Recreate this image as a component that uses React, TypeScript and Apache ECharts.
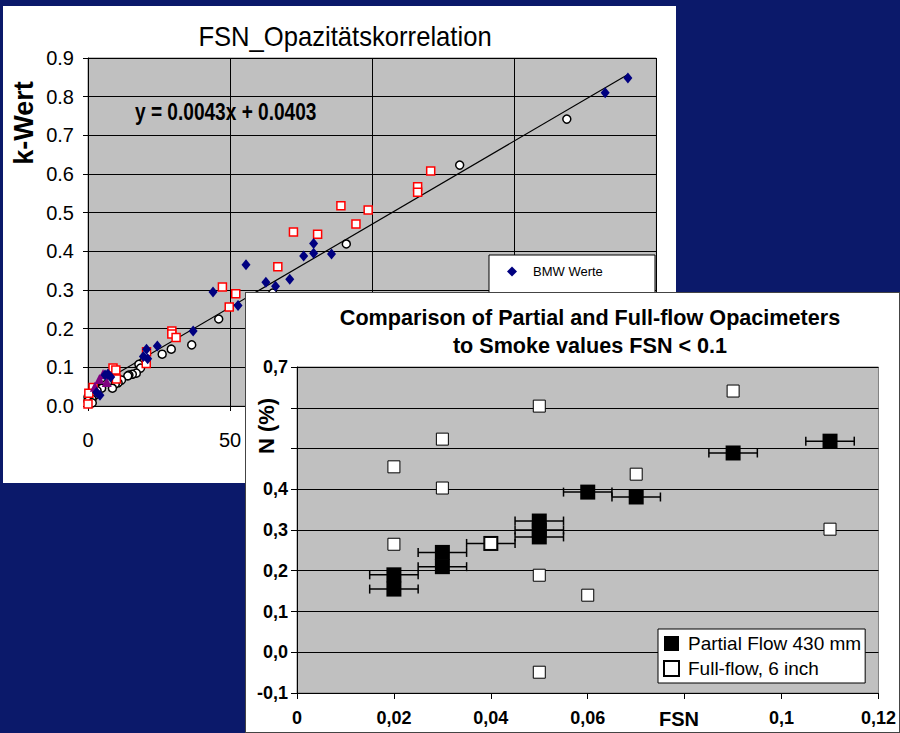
import React, { useEffect, useRef } from "react";
import * as echarts from "echarts";

const FONT = "'Liberation Sans', Arial, sans-serif";

// ---------- Chart 1: FSN_Opazitätskorrelation ----------
const chart1Title = "FSN_Opazitätskorrelation";
const chart1YName = "k-Wert";
const chart1Equation = "y = 0.0043x + 0.0403";
const chart1SeriesNames = ["BMW Werte", "Teilfluss-Opazimeter", "Vollstrom-Opazimeter", "Sonstige"];

const bmwWerte: number[][] = [
  [190, 0.848], [182, 0.81], [85.7, 0.393], [79.4, 0.42], [79.4, 0.395], [75.9, 0.388],
  [71, 0.328], [66, 0.31], [62.6, 0.32], [55.6, 0.365], [52.8, 0.26], [44, 0.295],
  [37, 0.194], [24.4, 0.155], [20.6, 0.147], [19.5, 0.128], [21, 0.122], [7, 0.083],
  [6, 0.08], [8, 0.075], [4.2, 0.028], [3, 0.035],
];
const redSquares: number[][] = [
  [120.6, 0.608], [116, 0.567], [116, 0.553], [98.6, 0.507], [89, 0.518], [94.3, 0.471],
  [80.8, 0.444], [72.3, 0.45], [66.8, 0.36], [47.3, 0.308], [52, 0.29], [49.7, 0.256],
  [29.5, 0.194], [29.5, 0.186], [31, 0.177], [20.6, 0.14], [8.8, 0.098], [9.8, 0.093],
  [1.8, 0.048], [0.3, 0.033], [0, 0.005], [20.5, 0.11], [10, 0.07],
];
const whiteCircles: number[][] = [
  [168.5, 0.742], [130.8, 0.623], [90.9, 0.419], [65, 0.292], [46, 0.225], [36.5, 0.158],
  [29.3, 0.147], [26.1, 0.134], [20.2, 0.121], [19.3, 0.113], [17.9, 0.108], [18.5, 0.098],
  [17, 0.085], [15.6, 0.082], [14.4, 0.08], [14, 0.078], [11.8, 0.067], [10.6, 0.06],
  [9.6, 0.057], [8.6, 0.046], [4.8, 0.046], [3.2, 0.04], [2.4, 0.028], [1.4, 0.018],
  [0, 0.023], [0, 0.013], [1.5, 0.008],
];
const purpleTriangles: number[][] = [[5.3, 0.083], [6.6, 0.062], [2.4, 0.05], [4, 0.07]];
const trendLine: number[][] = [[0, 0.0403], [190, 0.8573]];

// ---------- Chart 2: Comparison ----------
const chart2Title1 = "Comparison of Partial and Full-flow Opacimeters";
const chart2Title2 = "to Smoke values FSN < 0.1";
const chart2YName = "N (%)";
const chart2XName = "FSN";
const partialName = "Partial Flow 430 mm";
const fullName = "Full-flow, 6 inch";
const partialX = [0.02, 0.02, 0.03, 0.03, 0.04, 0.05, 0.05, 0.05, 0.06, 0.07, 0.09, 0.11];
const partialY = [0.19, 0.155, 0.245, 0.21, 0.267, 0.322, 0.3, 0.283, 0.393, 0.381, 0.489, 0.518];
const partialErr = [0.005, 0.005, 0.005, 0.005, 0.005, 0.005, 0.005, 0.005, 0.005, 0.005, 0.005, 0.005];
const fullX = [0.02, 0.02, 0.03, 0.03, 0.04, 0.05, 0.05, 0.05, 0.06, 0.07, 0.09, 0.11];
const fullY = [0.455, 0.265, 0.523, 0.403, 0.267, 0.604, 0.189, -0.049, 0.14, 0.437, 0.641, 0.302];

function Chart1() {
  const ref = useRef<HTMLDivElement>(null);
  useEffect(() => {
    const chart = echarts.init(ref.current!, null, { renderer: "svg" });
    chart.setOption({
      animation: false,
      backgroundColor: "#ffffff",
      grid: {
        left: 85, top: 52, width: 571, height: 348, show: true,
        backgroundColor: "#c0c0c0", borderColor: "#808080", borderWidth: 1,
      },
      xAxis: {
        type: "value", min: 0, max: 200, interval: 50,
        axisLine: { onZero: false, lineStyle: { color: "#000", width: 1 } },
        axisTick: { show: true, length: 5, lineStyle: { color: "#000" } },
        axisLabel: { fontFamily: FONT, fontSize: 20, color: "#000", margin: 24 },
        splitLine: { show: true, lineStyle: { color: "#000", width: 1 } },
      },
      yAxis: {
        type: "value", min: 0, max: 0.9, interval: 0.1,
        axisLine: { show: true, lineStyle: { color: "#000", width: 1 } },
        axisTick: { show: true, length: 5, lineStyle: { color: "#000" } },
        axisLabel: {
          fontFamily: FONT, fontSize: 20, color: "#000", margin: 14,
          formatter: (v: number) => v.toFixed(1),
        },
        splitLine: { show: true, lineStyle: { color: "#000", width: 1 } },
      },
      legend: {
        orient: "vertical", left: 486, top: 249, padding: [10, 10, 10, 18],
        itemGap: 16, itemWidth: 10, itemHeight: 10, z: 10,
        data: chart1SeriesNames.slice(0, 1),
        textStyle: { fontFamily: FONT, fontSize: 13, color: "#000", padding: [0, 0, 0, 11] },
      },
      graphic: [
        {
          type: "rect", z: 5, shape: { x: 486, y: 249, width: 166, height: 70 },
          style: { fill: "#fff", stroke: "#000", lineWidth: 1 },
        },
        {
          type: "text", x: 342, y: 31, scaleX: 0.915,
          style: { text: chart1Title, font: `28px ${FONT}`, fill: "#000", textAlign: "center", textVerticalAlign: "middle" },
        },
        {
          type: "text", x: 21, y: 117, rotation: Math.PI / 2,
          style: { text: chart1YName, font: `bold 27px ${FONT}`, fill: "#000", textAlign: "center", textVerticalAlign: "middle" },
        },
        {
          type: "text", x: 132, y: 106, z: 6, scaleX: 0.83,
          style: { text: chart1Equation, font: `bold 23px ${FONT}`, fill: "#000", textAlign: "left", textVerticalAlign: "middle" },
        },
      ],
      series: [
        {
          name: "Linear", type: "line", data: trendLine, showSymbol: false, z: 2,
          lineStyle: { color: "#000", width: 1.2 },
        },
        {
          name: chart1SeriesNames[2], type: "scatter", data: whiteCircles, symbol: "circle", symbolSize: 8, z: 3,
          itemStyle: { color: "#fff", borderColor: "#000", borderWidth: 1.5, opacity: 1 },
        },
        {
          name: chart1SeriesNames[1], type: "scatter", data: redSquares, symbol: "rect", symbolSize: 8, z: 3,
          itemStyle: { color: "#fff", borderColor: "#ff0000", borderWidth: 1.5, opacity: 1 },
        },
        {
          name: chart1SeriesNames[3], type: "scatter", data: purpleTriangles, symbol: "triangle", symbolSize: 10, z: 3,
          itemStyle: { color: "#800080", opacity: 1 },
        },
        {
          name: chart1SeriesNames[0], type: "scatter", data: bmwWerte, symbol: "diamond", symbolSize: [9, 11], z: 4,
          itemStyle: { color: "#000080", opacity: 1 },
        },
      ],
    });
    return () => chart.dispose();
  }, []);
  return <div ref={ref} style={{ width: 673, height: 477 }} />;
}

function Chart2() {
  const ref = useRef<HTMLDivElement>(null);
  useEffect(() => {
    const chart = echarts.init(ref.current!, null, { renderer: "svg" });
    const comma = (v: number, d: number) => v.toFixed(d).replace(".", ",");
    chart.setOption({
      animation: false,
      backgroundColor: "#ffffff",
      grid: {
        left: 51, top: 74, width: 586, height: 326, show: true,
        backgroundColor: "#c0c0c0", borderColor: "#808080", borderWidth: 1,
      },
      xAxis: {
        type: "value", min: 0, max: 0.12, interval: 0.02,
        axisLine: { onZero: false, lineStyle: { color: "#000", width: 1 } },
        axisTick: { show: true, length: 6, lineStyle: { color: "#000" } },
        axisLabel: {
          fontFamily: FONT, fontSize: 18, fontWeight: "bold", color: "#000", margin: 16,
          formatter: (v: number) => {
            if (Math.abs(v - 0.08) < 1e-9) return "";
            if (v === 0) return "0";
            const s = comma(v, 2);
            return s.endsWith("0") ? s.slice(0, -1) : s;
          },
        },
        splitLine: { show: false },
      },
      yAxis: {
        type: "value", min: -0.1, max: 0.7, interval: 0.1,
        axisLine: { show: true, onZero: false, lineStyle: { color: "#000", width: 1 } },
        axisTick: { show: true, length: 6, lineStyle: { color: "#000" } },
        axisLabel: {
          fontFamily: FONT, fontSize: 18, fontWeight: "bold", color: "#000", margin: 9,
          formatter: (v: number) => {
            if (Math.abs(v - 0.5) < 1e-9 || Math.abs(v - 0.6) < 1e-9) return "";
            return comma(v, 1);
          },
        },
        splitLine: { show: true, lineStyle: { color: "#000", width: 1 } },
      },
      legend: {
        orient: "vertical", left: 412, top: 336, padding: [5, 4, 5, 5],
        itemGap: 6, itemWidth: 15, itemHeight: 15,
        backgroundColor: "#fff", borderColor: "#000", borderWidth: 1,
        data: [partialName, fullName],
        textStyle: { fontFamily: FONT, fontSize: 19, color: "#000", padding: [0, 0, 0, 4] },
      },
      graphic: [
        {
          type: "text", x: 344, y: 24,
          style: { text: chart2Title1, font: `bold 21.6px ${FONT}`, fill: "#000", textAlign: "center", textVerticalAlign: "middle" },
        },
        {
          type: "text", x: 344, y: 52,
          style: { text: chart2Title2, font: `bold 21.6px ${FONT}`, fill: "#000", textAlign: "center", textVerticalAlign: "middle" },
        },
        {
          type: "text", x: 20, y: 133, rotation: Math.PI / 2,
          style: { text: chart2YName, font: `bold 22px ${FONT}`, fill: "#000", textAlign: "center", textVerticalAlign: "middle" },
        },
        {
          type: "text", x: 433, y: 426,
          style: { text: chart2XName, font: `bold 20px ${FONT}`, fill: "#000", textAlign: "center", textVerticalAlign: "middle" },
        },
      ],
      series: [
        {
          name: "errorbars", type: "custom", z: 1,
          data: partialX.map((x, i) => [x, partialY[i], partialErr[i]]),
          encode: { x: 0, y: 1 },
          renderItem: (_p: any, api: any) => {
            const x = api.value(0), y = api.value(1), e = api.value(2);
            const a = api.coord([x - e, y]);
            const b = api.coord([x + e, y]);
            const h = 4.5;
            const st = { stroke: "#000", lineWidth: 1.5 };
            return {
              type: "group",
              children: [
                { type: "line", shape: { x1: a[0], y1: a[1], x2: b[0], y2: b[1] }, style: st },
                { type: "line", shape: { x1: a[0], y1: a[1] - h, x2: a[0], y2: a[1] + h }, style: st },
                { type: "line", shape: { x1: b[0], y1: b[1] - h, x2: b[0], y2: b[1] + h }, style: st },
              ],
            };
          },
        },
        {
          name: partialName, type: "scatter", z: 2, symbol: "rect", symbolSize: 15,
          data: partialX.map((x, i) => [x, partialY[i]]),
          itemStyle: { color: "#000", opacity: 1 },
        },
        {
          name: fullName, type: "scatter", z: 3, symbol: "rect", symbolSize: 12,
          data: fullX.map((x, i) => [x, fullY[i]]),
          itemStyle: { color: "#fff", borderColor: "#000", borderWidth: 1, opacity: 1 },
        },
      ],
    });
    return () => chart.dispose();
  }, []);
  return <div ref={ref} style={{ width: 653, height: 439 }} />;
}

export default function App() {
  return (
    <div style={{ position: "fixed", left: 0, top: 0, width: 900, height: 733, background: "#0b196a", overflow: "hidden" }}>
      <div style={{ position: "absolute", left: 3, top: 6, width: 673, height: 477, background: "#fff" }}>
        <Chart1 />
      </div>
      <div style={{ position: "absolute", left: 245, top: 292, width: 655, height: 441, background: "#fff", border: "1px solid #444", boxSizing: "border-box" }}>
        <Chart2 />
      </div>
    </div>
  );
}
